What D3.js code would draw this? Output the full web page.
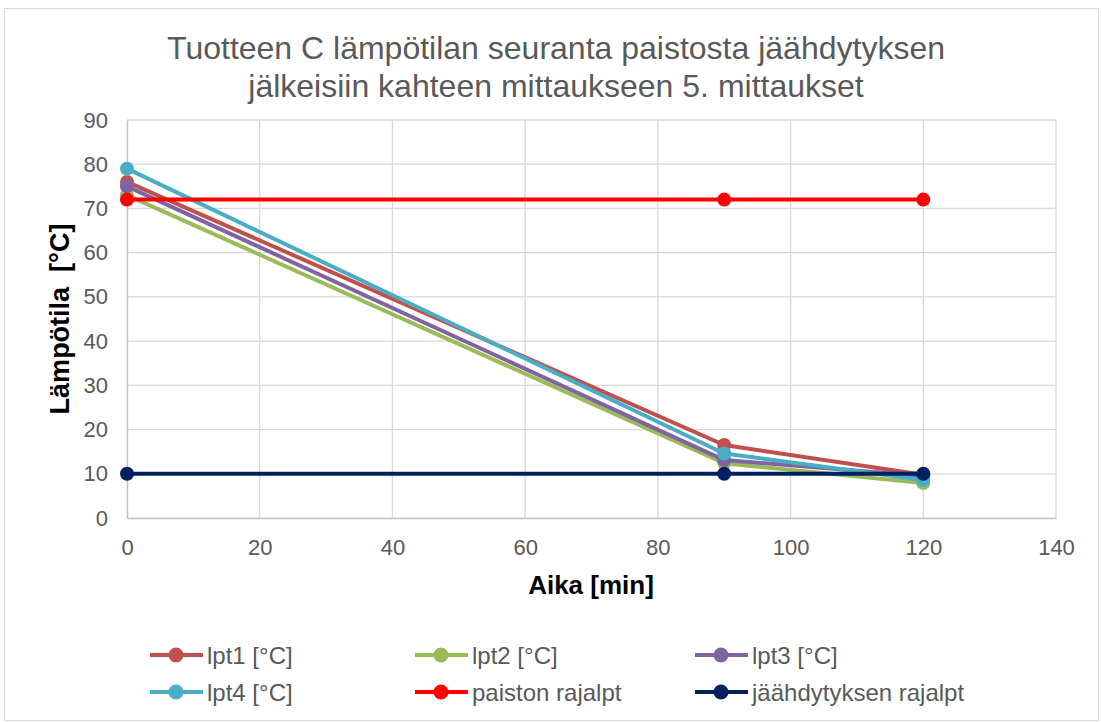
<!DOCTYPE html>
<html>
<head>
<meta charset="utf-8">
<script src="https://cdn.jsdelivr.net/npm/d3@7"></script>
<style>
  body { margin: 0; background: #fff; }
  text { font-family: "Liberation Sans", Arial, sans-serif; }
</style>
</head>
<body>
<svg width="1101" height="722"></svg>
<script>
// data
const times = [0, 90, 120];
const lpt1 = [76, 16.5, 9.8];
const lpt2 = [73, 12.4, 7.9];
const lpt3 = [75, 13.1, 9.5];
const lpt4 = [79, 14.6, 8.6];
const paiston = [72, 72, 72];
const jaahdytys = [10, 10, 10];

const seriesNames = ["lpt1 [°C]", "lpt2 [°C]", "lpt3 [°C]", "lpt4 [°C]", "paiston rajalpt", "jäähdytyksen rajalpt"];
const seriesValues = [lpt1, lpt2, lpt3, lpt4, paiston, jaahdytys];
const colors = ["#c0504d", "#9bbb59", "#8064a2", "#4bacc6", "#ff0000", "#002060"];
const xTicks = [0, 20, 40, 60, 80, 100, 120, 140];
const yTicks = [0, 10, 20, 30, 40, 50, 60, 70, 80, 90];

const svg = d3.select("svg");

svg.append("rect")
  .attr("x", 4.5).attr("y", 8.5)
  .attr("width", 1094).attr("height", 712)
  .attr("fill", "#fff").attr("stroke", "#d9d9d9");

const x = d3.scaleLinear().domain([0, 140]).range([127, 1056]);
const y = d3.scaleLinear().domain([0, 90]).range([518, 120]);

// grid
svg.append("g").selectAll("line")
  .data(yTicks.slice(1))
  .enter().append("line")
  .attr("x1", x(0)).attr("x2", x(140))
  .attr("y1", d => y(d)).attr("y2", d => y(d))
  .attr("stroke", "#d9d9d9").attr("stroke-width", 1.3);

svg.append("g").selectAll("line")
  .data(xTicks.slice(1))
  .enter().append("line")
  .attr("x1", d => x(d)).attr("x2", d => x(d))
  .attr("y1", y(0)).attr("y2", y(90))
  .attr("stroke", "#d9d9d9").attr("stroke-width", 1.3);

// axes
const xAxis = svg.append("g")
  .attr("transform", `translate(0,${y(0)})`)
  .call(d3.axisBottom(x).tickValues(xTicks).tickSize(0).tickPadding(21));
const yAxis = svg.append("g")
  .attr("transform", `translate(${x(0)},0)`)
  .call(d3.axisLeft(y).tickValues(yTicks).tickSize(0).tickPadding(19));

[xAxis, yAxis].forEach(a => {
  a.select(".domain").attr("stroke", "#bfbfbf").attr("stroke-width", 1.5);
  a.selectAll("text").attr("fill", "#595959").style("font-size", "22px")
    .style("font-family", "'Liberation Sans', Arial, sans-serif");
});

// series
const line = d3.line().x((d, i) => x(times[i])).y(d => y(d));

seriesValues.forEach((vals, k) => {
  const g = svg.append("g");
  g.append("path")
    .datum(vals)
    .attr("d", line)
    .attr("fill", "none")
    .attr("stroke", colors[k])
    .attr("stroke-width", 4)
    .attr("stroke-linejoin", "round");
  g.selectAll("circle")
    .data(vals)
    .enter().append("circle")
    .attr("cx", (d, i) => x(times[i]))
    .attr("cy", d => y(d))
    .attr("r", 7)
    .attr("fill", colors[k]);
});

// titles
const title = svg.append("text")
  .attr("text-anchor", "middle")
  .attr("fill", "#595959").style("font-size", "32px");
title.append("tspan").attr("x", 556).attr("y", 59).text("Tuotteen C lämpötilan seuranta paistosta jäähdytyksen");
title.append("tspan").attr("x", 556).attr("y", 97).text("jälkeisiin kahteen mittaukseen 5. mittaukset");

svg.append("text")
  .attr("x", 591).attr("y", 594)
  .attr("text-anchor", "middle")
  .attr("font-weight", "bold")
  .attr("fill", "#000")
  .style("font-size", "26px")
  .text("Aika [min]");

svg.append("text")
  .attr("transform", `translate(69,319) rotate(-90)`)
  .attr("text-anchor", "middle")
  .attr("font-weight", "bold")
  .attr("fill", "#000")
  .style("font-size", "27px")
  .style("white-space", "pre")
  .text("Lämpötila  [°C]");

// legend
const legX = [150, 415, 695];
const legY = [655, 692];
const leg = svg.append("g").selectAll("g")
  .data(seriesNames)
  .enter().append("g")
  .attr("transform", (d, i) => `translate(${legX[i % 3]},${legY[Math.floor(i / 3)]})`);
leg.append("line")
  .attr("x1", 0).attr("x2", 53)
  .attr("stroke", (d, i) => colors[i]).attr("stroke-width", 4);
leg.append("circle")
  .attr("cx", 26).attr("r", 7.5)
  .attr("fill", (d, i) => colors[i]);
leg.append("text")
  .attr("x", 57).attr("dy", "0.36em")
  .attr("fill", "#595959")
  .style("font-size", "24px")
  .text(d => d);
</script>
</body>
</html>
